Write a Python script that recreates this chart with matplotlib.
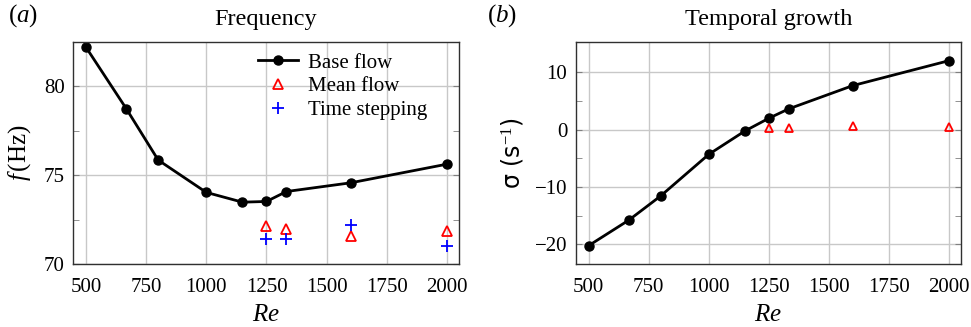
import numpy as np
import matplotlib
matplotlib.use("Agg")
import matplotlib.pyplot as plt

plt.rcParams["font.family"] = ["Liberation Serif", "DejaVu Serif"]
plt.rcParams["mathtext.fontset"] = "custom"
plt.rcParams["mathtext.rm"] = "Liberation Serif"
plt.rcParams["mathtext.it"] = "Liberation Serif:italic"

# Reynolds numbers
re_base = [500, 667, 800, 1000, 1150, 1250, 1333, 1600, 2000]
re_mean = [1250, 1333, 1600, 2000]

# frequency (Hz)
f_base = [82.2, 78.75, 75.85, 74.03, 73.48, 73.52, 74.08, 74.57, 75.62]
f_mean = [72.12, 71.95, 71.6, 71.84]
f_ts = [71.39, 71.39, 72.2, 71.0]

# temporal growth (1/s)
sig_base = [-20.2, -15.76, -11.53, -4.29, -0.23, 2.0, 3.64, 7.7, 12.04]
sig_mean = [0.3, 0.3, 0.6, 0.45]

fig = plt.figure(figsize=(9.71, 3.27), dpi=100)
ax1 = fig.add_axes([0.0752, 0.1927, 0.3975, 0.679])
ax2 = fig.add_axes([0.5929, 0.1927, 0.3968, 0.679])

grid_kw = dict(color="#c8c8c8", linewidth=1.0)

for ax in (ax1, ax2):
    ax.set_xlim(446, 2050)
    ax.set_xticks([500, 750, 1000, 1250, 1500, 1750, 2000])
    ax.grid(True, which="major", **grid_kw)
    ax.set_axisbelow(True)
    ax.tick_params(which="both", direction="in", left=True, right=True,
                   top=False, bottom=False, labelsize=15, length=4,
                   color="#808080")
    ax.tick_params(axis="x", pad=10)
    ax.tick_params(axis="y", pad=6)
    ax.set_xlabel("$Re$", fontsize=18, labelpad=5)
    for s in ax.spines.values():
        s.set_linewidth(1.0)
        s.set_color("#303030")

# (a) frequency
ax1.plot(re_base, f_base, "-o", color="black", lw=2, ms=6.5, label="Base flow")
ax1.plot(re_mean, f_mean, "^", mfc="none", mec="red", mew=1.3, ms=7,
         label="Mean flow")
ax1.plot(re_mean, f_ts, "+", color="blue", mew=1.3, ms=8,
         label="Time stepping")
ax1.set_ylim(70, 82.5)
ax1.set_yticks([70, 75, 80])
ax1.set_yticks([72.5, 77.5], minor=True)
ax1.set_ylabel("$f\\,$(Hz)", fontsize=18, labelpad=8)
ax1.set_title("Frequency", fontsize=17.5, pad=12)
ax1.text(-0.168, 1.06, "($a$)", transform=ax1.transAxes, fontsize=18,
         va="bottom", ha="left")
ax1.legend(loc="upper right", frameon=False, fontsize=15,
           handlelength=1.9, handletextpad=0.5, labelspacing=0.2,
           borderpad=0, borderaxespad=0, bbox_to_anchor=(0.918, 0.95))

# (b) temporal growth
ax2.plot(re_base, sig_base, "-o", color="black", lw=2, ms=6.5)
ax2.plot(re_mean, sig_mean, "^", mfc="none", mec="red", mew=1.3, ms=6)
ax2.set_ylim(-23.4, 15.3)
ax2.set_yticks([-20, -10, 0, 10])
ax2.set_yticks([-15, -5, 5], minor=True)
ax2.set_yticklabels(["\u221220", "\u221210", "0", "10"])
ax2.set_ylabel("\u03c3 (s$^{-1}$)", fontsize=17, labelpad=7,
               family=["DejaVu Sans"])
ax2.set_title("Temporal growth", fontsize=17.5, pad=12)
ax2.text(-0.23, 1.06, "($b$)", transform=ax2.transAxes, fontsize=18,
         va="bottom", ha="left")

fig.savefig("out.png", dpi=100)
